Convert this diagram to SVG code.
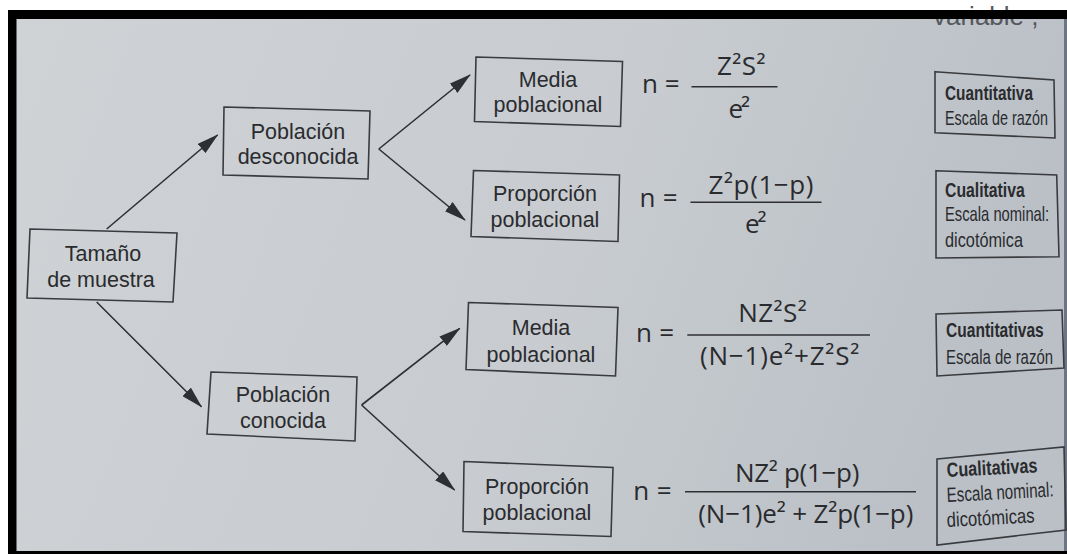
<svg xmlns="http://www.w3.org/2000/svg" width="1067" height="554" viewBox="0 0 1067 554">
<defs>
<linearGradient id="bg" x1="0" y1="0" x2="1" y2="0.2">
<stop offset="0" stop-color="#cfd3d6"/>
<stop offset="0.6" stop-color="#c8ccd0"/>
<stop offset="1" stop-color="#bac0c6"/>
</linearGradient>
<marker id="ah" markerWidth="22" markerHeight="12" refX="21" refY="6" orient="auto" markerUnits="userSpaceOnUse">
<path d="M0,0 L22,6 L0,12 z" fill="#2e2f33"/>
</marker>
<style>
.box{fill:none;stroke:#3a3b3f;stroke-width:1.6}
.lbl{font-family:"Liberation Sans",Arial,sans-serif;font-size:21.5px;fill:#2a2b2e;text-anchor:middle}
.f{font-family:"Open Sans","Noto Sans",sans-serif;font-size:26px;fill:#2a2b2e}
.fl{stroke:#2e2f33;stroke-width:1.6}
.rb{font-family:"Liberation Sans",Arial,sans-serif;font-size:20.5px;fill:#2a2b2e}
.rbb{font-weight:bold}
.con{fill:none;stroke:#2e2f33;stroke-width:1.6;marker-end:url(#ah)}
</style>
</defs>
<rect x="0" y="0" width="1067" height="554" fill="#ffffff"/>
<rect x="8" y="10" width="1059" height="544" fill="url(#bg)"/>
<text x="933" y="25" font-family="Liberation Sans, Arial, sans-serif" font-size="26" fill="#55585d">variable ,</text>
<rect x="8" y="10" width="1059" height="9" fill="#000"/>
<rect x="8" y="10" width="8.5" height="544" fill="#000"/>
<rect x="8" y="551" width="1059" height="3" fill="#000"/>
<rect x="1064" y="19" width="3" height="532" fill="#6e7482"/>

<g id="connectors">
<path class="con" d="M106.7,229 L217.6,135"/>
<path class="con" d="M96.7,302 L201.5,406.7"/>
<path class="con" d="M378.8,149 L470,75"/>
<path class="con" d="M378.8,149 L465,220"/>
<path class="con" d="M361.6,405 L459.7,328.3"/>
<path class="con" d="M361.6,405 L454.6,490"/>
</g>

<g id="tamano">
<polygon class="box" points="30,229 177,233 173,302 27,298"/>
<text class="lbl" x="103" y="261">Tamaño</text>
<text class="lbl" x="101" y="287">de muestra</text>
</g>

<g id="desconocida">
<polygon class="box" points="224,107 370,111 368,179 223,175"/>
<text class="lbl" x="298" y="139">Población</text>
<text class="lbl" x="298" y="164">desconocida</text>
</g>

<g id="conocida">
<polygon class="box" points="211,372 357,377 355,441 207,434"/>
<text class="lbl" x="283" y="402">Población</text>
<text class="lbl" x="283" y="428">conocida</text>
</g>

<g id="media1">
<polygon class="box" points="476,57 622.5,61.5 620.5,126.5 474.5,121.5"/>
<text class="lbl" x="548" y="87">Media</text>
<text class="lbl" x="548" y="112">poblacional</text>
</g>

<g id="proporcion1">
<polygon class="box" points="473.5,170.5 619.5,175 618,241.5 471,236.5"/>
<text class="lbl" x="545" y="201">Proporción</text>
<text class="lbl" x="545" y="227">poblacional</text>
</g>

<g id="media2">
<polygon class="box" points="468.5,302.5 618,307.5 615.5,376 466,369.5"/>
<text class="lbl" x="541" y="335">Media</text>
<text class="lbl" x="541" y="362">poblacional</text>
</g>

<g id="proporcion2">
<polygon class="box" points="464,461.5 613,467.5 611,536.5 463,531.5"/>
<text class="lbl" x="537" y="494">Proporción</text>
<text class="lbl" x="537" y="520">poblacional</text>
</g>

<g id="formula1">
<text class="f" x="642" y="93" textLength="37.5" lengthAdjust="spacing">n =</text>
<line class="fl" x1="691.5" y1="86.7" x2="777.5" y2="86.7"/>
<text class="f" x="717" y="74.5" textLength="48.5" lengthAdjust="spacing">Z²S²</text>
<text class="f" x="728.5" y="117.5" textLength="21.5" lengthAdjust="spacing">e²</text>
</g>

<g id="formula2">
<text class="f" x="639.5" y="206.7" textLength="38" lengthAdjust="spacing">n =</text>
<line class="fl" x1="690.5" y1="202.3" x2="821.5" y2="202.3"/>
<text class="f" x="708.5" y="193.5" textLength="105" lengthAdjust="spacing">Z²p(1−p)</text>
<text class="f" x="745" y="232.7" textLength="21.5" lengthAdjust="spacing">e²</text>
</g>

<g id="formula3">
<text class="f" x="636" y="341.7" textLength="38" lengthAdjust="spacing">n =</text>
<line class="fl" x1="687.3" y1="335" x2="870" y2="335"/>
<text class="f" x="738.3" y="321.7" textLength="68.4" lengthAdjust="spacing">NZ²S²</text>
<text class="f" x="700" y="365" textLength="159.3" lengthAdjust="spacing">(N−1)e²+Z²S²</text>
</g>

<g id="formula4">
<text class="f" x="633.3" y="500" textLength="38.4" lengthAdjust="spacing">n =</text>
<line class="fl" x1="685" y1="491.7" x2="916" y2="491.7"/>
<text class="f" x="735" y="481.7" textLength="124.3" lengthAdjust="spacing">NZ² p(1−p)</text>
<text class="f" x="698.3" y="523.3" textLength="215" lengthAdjust="spacing">(N−1)e² + Z²p(1−p)</text>
</g>

<g id="tipo1">
<polygon class="box" points="935,71.7 1054,80 1055,138 935,132.7"/>
<text class="rb rbb" transform="translate(945 100) scale(0.75 1)">Cuantitativa</text>
<text class="rb" transform="translate(945 125) scale(0.70 1)">Escala de razón</text>
</g>

<g id="tipo2">
<polygon class="box" points="936,170.7 1056.7,175 1059,256.7 936,258"/>
<text class="rb rbb" transform="translate(945 197) scale(0.77 1)">Cualitativa</text>
<text class="rb" transform="translate(945 221) scale(0.72 1)">Escala nominal:</text>
<text class="rb" transform="translate(945 247) scale(0.796 1)">dicotómica</text>
</g>

<g id="tipo3">
<polygon class="box" points="936,314 1062,310 1064,368 937,376"/>
<text class="rb rbb" transform="translate(946 337) scale(0.76 1)">Cuantitativas</text>
<text class="rb" transform="translate(946 364) scale(0.728 1)">Escala de razón</text>
</g>

<g id="tipo4">
<polygon class="box" points="937,459 1064,447 1066,530 937,545"/>
<text class="rb rbb" transform="translate(947 477) rotate(-3) scale(0.79 1)">Cualitativas</text>
<text class="rb" transform="translate(947 502) rotate(-3) scale(0.74 1)">Escala nominal:</text>
<text class="rb" transform="translate(947 527) rotate(-3) scale(0.813 1)">dicotómicas</text>
</g>
</svg>
